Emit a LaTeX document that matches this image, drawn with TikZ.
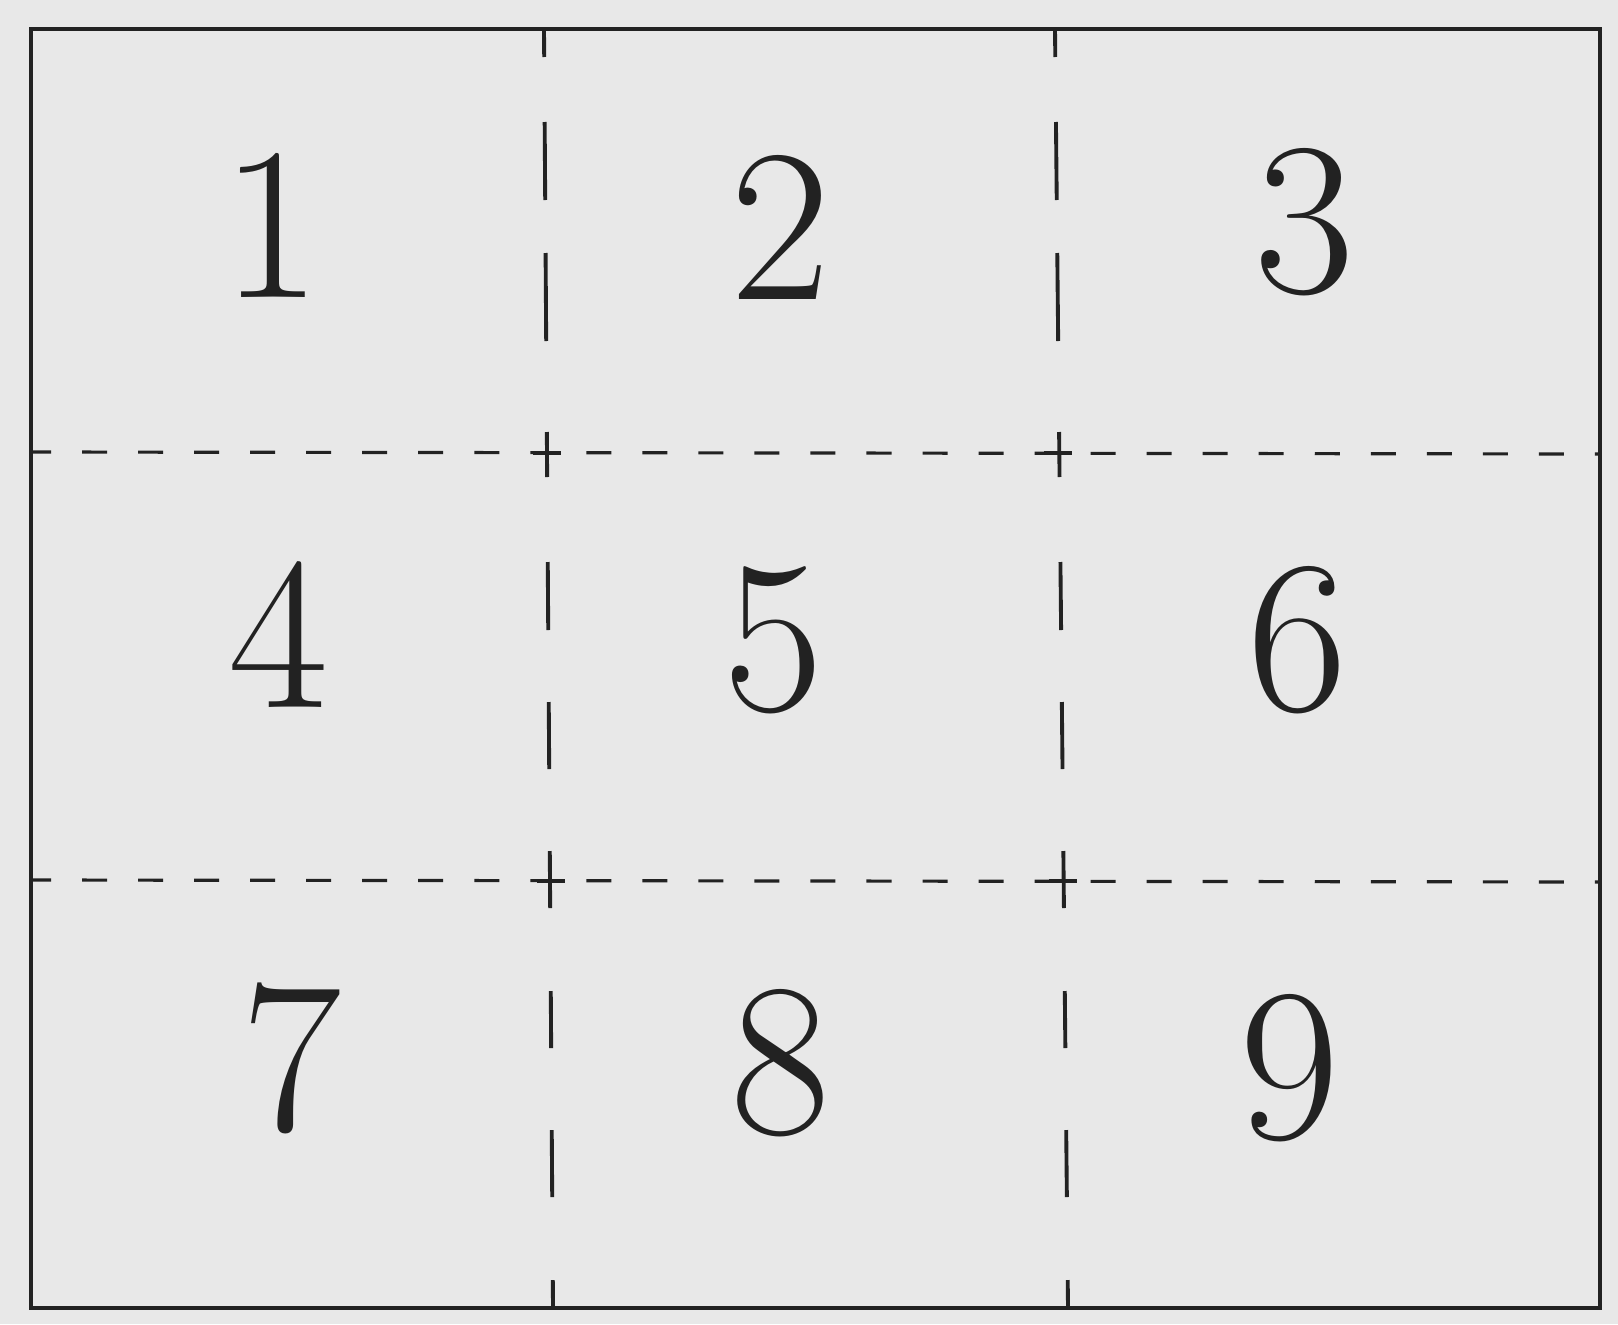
\documentclass[tikz,border=0pt]{standalone}
\usetikzlibrary{positioning}
\definecolor{paper}{HTML}{E8E8E8}
\definecolor{ink}{HTML}{222222}

\begin{document}
\begin{tikzpicture}[
  x=0.01cm, y=-0.01cm,
  text=ink,
  frame/.style={draw=ink, line width=1.2pt},
  cut/.style={draw=ink, line width=1.1pt},
  fold/.style={draw=ink, line width=.9pt, dash pattern=on 0.25cm off 0.31cm, dash phase=0.05cm},
  digit/.style={font=\fontsize{62}{62}\selectfont, inner sep=0pt}
]
  \fill[paper] (0,0) rectangle (1618,1324);
  \useasboundingbox (0,0) rectangle (1618,1324);
  % sheet and fold lines
  \draw[frame] (31,29) rectangle (1600,1308);
  \draw[fold] (31,452) -- (1600,454);
  \draw[fold] (31,880) -- (1600,882);
  \foreach \xt/\xb in {544/553, 1055/1068} {
    \foreach \ya/\yb in {29/57, 122/200, 253/341, 432/477, 562/630, 702/769, 851/908, 991/1048, 1130/1197, 1280/1308}
      \draw[cut] ({\xt+(\xb-\xt)/1279*(\ya-29)},\ya) -- ({\xt+(\xb-\xt)/1279*(\yb-29)},\yb);
  }
  % cross ticks
  \foreach \xc/\yc in {547/453, 1058/453, 551/881, 1063/881}
    \draw[cut] (\xc-14,\yc) -- (\xc+14,\yc);
  % numbers
  \foreach \n/\px/\py in {1/272/225, 2/781/227, 3/1305/222,
                          4/279/635, 5/774/640, 6/1298/640,
                          7/292/1058, 8/781/1063, 9/1290/1068}
    \node[digit] (n\n) at (\px,\py) {\n};
\end{tikzpicture}
\end{document}
